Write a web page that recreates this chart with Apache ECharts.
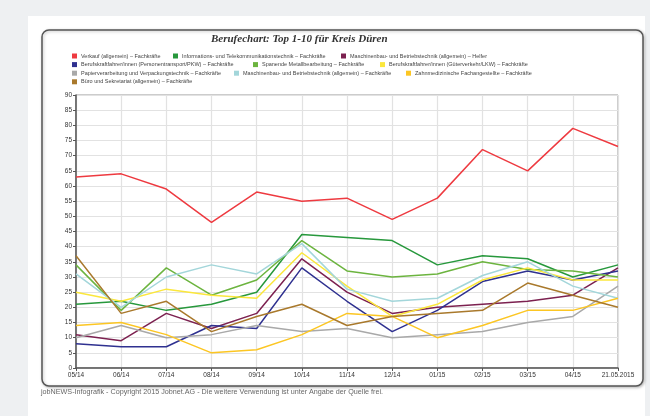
<!DOCTYPE html>
<html>
<head>
<meta charset="utf-8">
<script src="https://cdn.jsdelivr.net/npm/echarts@6/dist/echarts.min.js"></script>
<style>
    html, body { margin: 0; padding: 0; background: #eef0f2; }
    #chart { width: 650px; height: 416px; }
</style>
</head>
<body>
<div id="chart"></div>
<script>
// Monate (x-Achse)
const months = ["05/14", "06/14", "07/14", "08/14", "09/14", "10/14", "11/14", "12/14", "01/15", "02/15", "03/15", "04/15", "21.05.2015"];

// Werte je Beruf
const verkauf = [63, 64, 59, 48, 58, 55, 56, 49, 56, 72, 65, 79, 73];
const itTechnik = [21, 22, 19, 21, 25, 44, 43, 42, 34, 37, 36, 30, 34];
const maschinenbauHelfer = [11, 9, 18, 13, 18, 36, 25, 18, 20, 21, 22, 24, 33];
const kraftfahrerPkw = [8, 7, 7, 14, 13, 33, 22, 12, 19, 28.5, 32, 29, 32];
const spanendeMetall = [34, 19, 33, 24, 29, 42, 32, 30, 31, 35, 32.5, 32, 30];
const kraftfahrerLkw = [25, 22, 26, 24, 23, 38, 27, 17, 21, 29, 33, 29, 29];
const papier = [10, 14, 10, 11, 14, 12, 13, 10, 11, 12, 15, 17, 27];
const maschinenbauFach = [31, 20, 30, 34, 31, 41, 26, 22, 23, 30.5, 35, 27, 23];
const zahnmedizin = [14, 15, 11, 5, 6, 11, 18, 17, 10, 14, 19, 19, 23];
const buero = [37, 18, 22, 12, 17, 21, 14, 17, 18, 19, 28, 24, 20];

const names = [
    "Verkauf (allgemein) – Fachkräfte",
    "Informations- und Telekommunikationstechnik – Fachkräfte",
    "Maschinenbau- und Betriebstechnik (allgemein) – Helfer",
    "Berufskraftfahrer/innen (Personentransport/PKW) – Fachkräfte",
    "Spanende Metallbearbeitung – Fachkräfte",
    "Berufskraftfahrer/innen (Güterverkehr/LKW) – Fachkräfte",
    "Papierverarbeitung und Verpackungstechnik – Fachkräfte",
    "Maschinenbau- und Betriebstechnik (allgemein) – Fachkräfte",
    "Zahnmedizinische Fachangestellte – Fachkräfte",
    "Büro und Sekretariat (allgemein) – Fachkräfte"
];
const values = [verkauf, itTechnik, maschinenbauHelfer, kraftfahrerPkw, spanendeMetall,
    kraftfahrerLkw, papier, maschinenbauFach, zahnmedizin, buero];
const colors = ["#ee3a40", "#27983c", "#7c2150", "#2f3190", "#6cb43f",
    "#fbe73c", "#a9a9a9", "#a3d6da", "#fcc623", "#a9792c"];

// Legende: Position jedes Eintrags (3 pro Zeile)
const legendLeft = [72, 173, 341, 72, 253, 380, 72, 234, 406, 72];

let chart = echarts.init(document.getElementById("chart"));

let option = {
    backgroundColor: "#eef0f2",
    animation: false,
    color: colors,
    graphic: [
        // weisse Fläche
        { type: "rect", shape: { x: 28, y: 16, width: 617, height: 400 }, style: { fill: "#fff" }, z: -10 },
        // Rahmen
        {
            type: "rect",
            shape: { x: 42, y: 30, width: 601, height: 356, r: 7 },
            style: { fill: "#fff", stroke: "#555", lineWidth: 1.5, shadowBlur: 3, shadowColor: "rgba(0,0,0,0.25)", shadowOffsetX: 1, shadowOffsetY: 1 },
            z: -5
        },
        {
            type: "text",
            left: 211,
            top: 34,
            style: {
                text: "Berufechart: Top 1-10 für Kreis Düren",
                font: "italic bold 11px 'Liberation Serif', 'DejaVu Serif', serif",
                fill: "#333"
            }
        },
        {
            type: "text",
            left: 41,
            top: 389,
            style: {
                text: "jobNEWS-Infografik - Copyright 2015 Jobnet.AG - Die weitere Verwendung ist unter Angabe der Quelle frei.",
                font: "7.2px 'Liberation Sans', Arial, sans-serif",
                fill: "#666"
            }
        }
    ],
    legend: names.map((name, i) => ({
        data: [name],
        left: legendLeft[i],
        top: 53 + Math.floor(i / 3) * 8.6,
        padding: 0,
        itemWidth: 5,
        itemHeight: 5,
        icon: "rect",
        selectedMode: false,
        textStyle: {
            fontSize: 5.5,
            color: "#444",
            padding: [0, 0, 0, -1],
            fontFamily: "'Liberation Sans', Arial, sans-serif"
        }
    })),
    grid: {
        left: 76,
        right: 32,
        top: 95,
        bottom: 48,
        show: true,
        borderColor: "#999",
        borderWidth: 1
    },
    xAxis: {
        type: "category",
        boundaryGap: false,
        data: months,
        axisLine: { lineStyle: { color: "#555", width: 1.5 } },
        axisTick: { show: true, length: 3, lineStyle: { color: "#555" } },
        splitLine: { show: true, lineStyle: { color: "#e2e2e2", width: 1.2 } },
        axisLabel: {
            fontSize: 6.5,
            color: "#333",
            margin: 4,
            fontFamily: "'Liberation Sans', Arial, sans-serif"
        }
    },
    yAxis: {
        type: "value",
        min: 0,
        max: 90,
        interval: 5,
        axisLine: { show: true, lineStyle: { color: "#555", width: 1.5 } },
        axisTick: { show: true, length: 3, lineStyle: { color: "#555" } },
        splitLine: { show: true, lineStyle: { color: "#e2e2e2", width: 1.2 } },
        axisLabel: {
            fontSize: 6.5,
            color: "#333",
            margin: 4,
            fontFamily: "'Liberation Sans', Arial, sans-serif"
        }
    },
    series: names.map((name, i) => ({
        name: name,
        type: "line",
        data: values[i],
        showSymbol: false,
        lineStyle: { width: 1.5 }
    }))
};

chart.setOption(option);
</script>
</body>
</html>
